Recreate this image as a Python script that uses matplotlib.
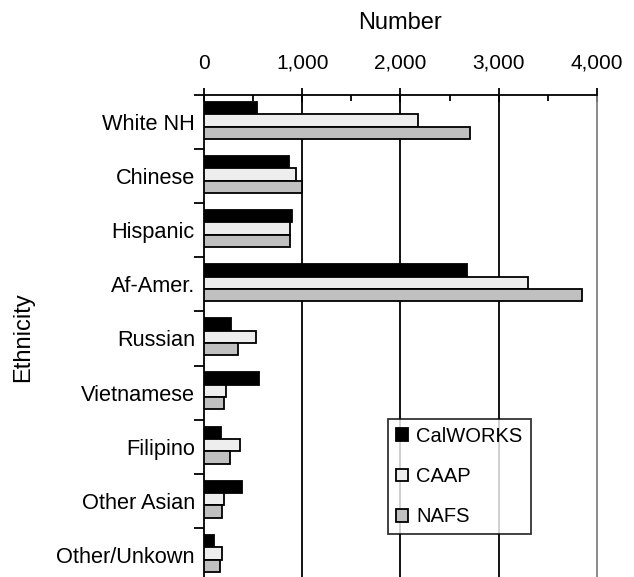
import matplotlib
matplotlib.use("Agg")
import matplotlib.pyplot as plt
import numpy as np
from matplotlib.ticker import MultipleLocator, FuncFormatter

plt.rcParams['font.family'] = ['Liberation Sans', 'DejaVu Sans']

categories = ["White NH", "Chinese", "Hispanic", "Af-Amer.", "Russian",
              "Vietnamese", "Filipino", "Other Asian", "Other/Unkown"]
calworks = [536, 861, 898, 2672, 271, 556, 170, 390, 105]
caap = [2174, 936, 871, 3299, 529, 221, 370, 200, 183]
nafs = [2706, 993, 878, 3845, 343, 200, 264, 183, 160]
series = [("CalWORKS", calworks, "#000000"),
          ("CAAP", caap, "#EEEEEE"),
          ("NAFS", nafs, "#C0C0C0")]

fig = plt.figure(figsize=(6.34, 5.77), dpi=100)
ax = fig.add_axes([0.3218, -0.0087, 0.6198, 0.8441])

n = len(categories)
y = np.arange(n) + 0.5
h = 0.228
for i, (name, vals, col) in enumerate(series):
    ax.barh(y + (i - 1) * h - 0.03, vals, height=h, color=col,
            edgecolor="black", linewidth=1.3, label=name, zorder=3)

ax.set_xlim(0, 4000)
ax.set_ylim(n, 0)
ax.xaxis.tick_top()
ax.xaxis.set_label_position("top")
ax.xaxis.set_major_locator(MultipleLocator(1000))
ax.xaxis.set_minor_locator(MultipleLocator(500))
ax.xaxis.set_major_formatter(FuncFormatter(lambda v, p: f"{int(v):,}"))
ax.tick_params(axis="x", which="major", direction="inout", length=10, width=1.3,
               labelsize=15, pad=11)
ax.tick_params(axis="x", which="minor", direction="in", length=4, width=1.3)
ax.set_yticks(np.arange(n + 1), minor=False)
ax.set_yticklabels([])
ax.set_yticks(y, minor=True)
ax.set_yticklabels(categories, minor=True)
ax.tick_params(axis="y", which="major", direction="out", length=7, width=1.3)
ax.tick_params(axis="y", which="minor", length=0, labelsize=15.7, pad=6.5)

for xv in (1000, 2000, 3000):
    ax.axvline(xv, color="black", linewidth=1.3, zorder=1)

ax.spines["top"].set_linewidth(1.3)
ax.spines["left"].set_linewidth(1.3)
ax.spines["right"].set_color("#808080")
ax.spines["right"].set_linewidth(1.3)
ax.spines["bottom"].set_visible(False)

ax.set_xlabel("Number", fontsize=17, labelpad=18)
fig.text(0.036, 0.416, "Ethnicity", rotation=90, fontsize=17,
         ha="center", va="center")

leg = ax.legend(loc="upper left", bbox_to_anchor=(0.467, 0.335), fontsize=14.5,
                frameon=True, fancybox=False, edgecolor="black",
                handlelength=0.6, handleheight=0.6, handletextpad=0.43,
                labelspacing=1.05, borderpad=0.4, borderaxespad=0)
leg.get_frame().set_linewidth(1.3)
leg.set_zorder(5)

fig.savefig("out.png", dpi=100, facecolor="white")
